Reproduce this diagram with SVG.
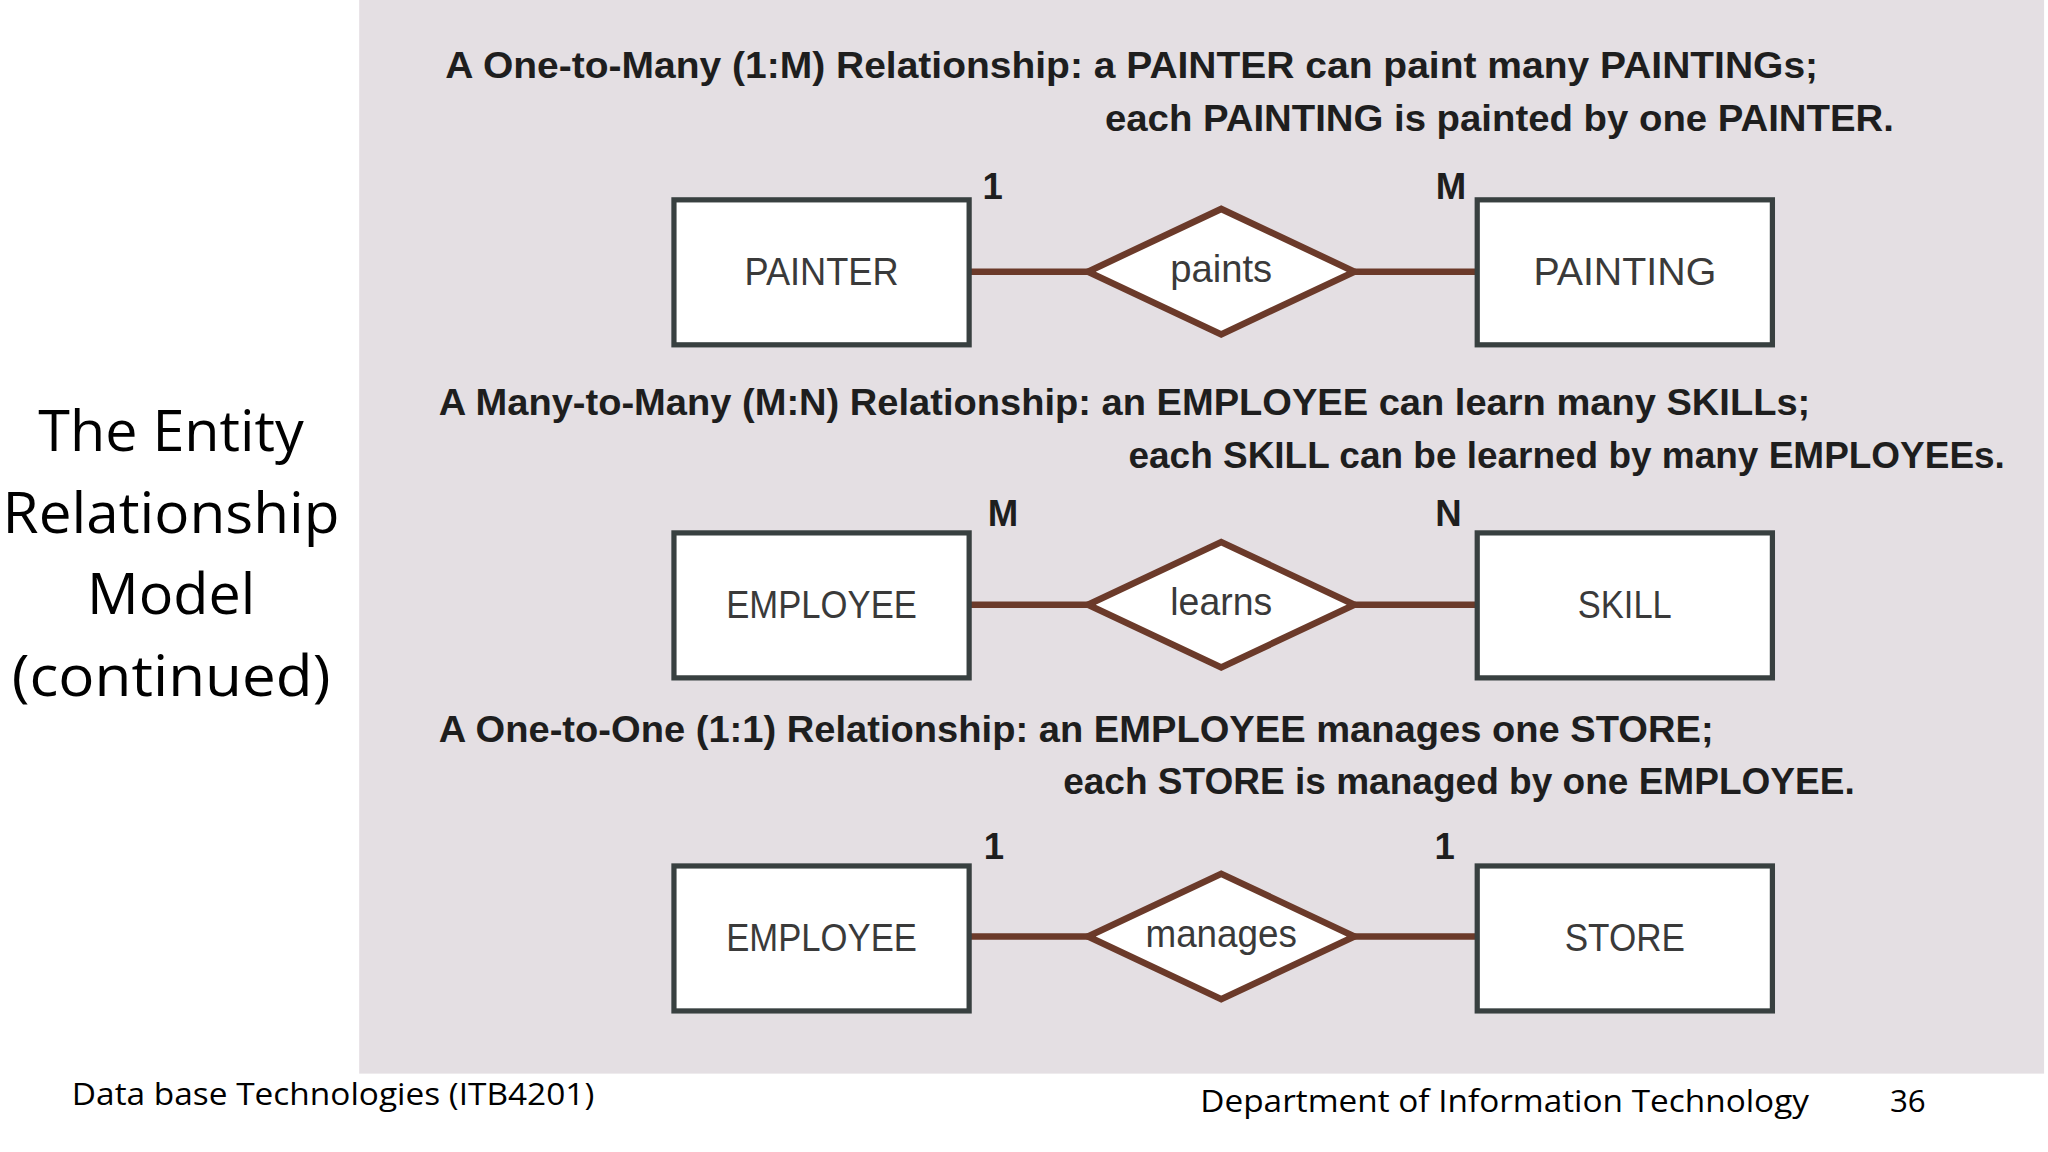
<svg xmlns="http://www.w3.org/2000/svg" width="2048" height="1152" viewBox="0 0 2048 1152">
<style>
.t{font-family:"Liberation Sans",Arial,sans-serif;font-size:28px;font-weight:bold;fill:#1e1e1e}
.ent{fill:#fff;stroke:#384040;stroke-width:4}
.rel{fill:#fff;stroke:#6b3a2a;stroke-width:5}
.lbl{font-family:"Liberation Sans",Arial,sans-serif;font-size:30px;fill:#3a3a3a;text-anchor:middle}
.card{font-family:"Liberation Sans",Arial,sans-serif;font-size:28px;font-weight:bold;fill:#1e1e1e;text-anchor:middle}
.side{font-family:"Open Sans",sans-serif;font-size:44px;fill:#000;text-anchor:middle}
.foot{font-family:"Open Sans",sans-serif;font-size:24px;fill:#000}
.ln{stroke:#6b3a2a;stroke-width:5}
</style>
<rect width="2048" height="1152" fill="#fff"/>
<g transform="scale(1.30612)">
<rect x="275" y="0" width="1290" height="822" fill="#e4dfe3"/>
<g id="titles">
<text class="t" x="341" y="60" textLength="1051" lengthAdjust="spacingAndGlyphs">A One-to-Many (1:M) Relationship: a PAINTER can paint many PAINTINGs;</text>
<text class="t" x="846" y="100" textLength="604" lengthAdjust="spacingAndGlyphs">each PAINTING is painted by one PAINTER.</text>
<text class="t" x="336" y="318" textLength="1050" lengthAdjust="spacingAndGlyphs">A Many-to-Many (M:N) Relationship: an EMPLOYEE can learn many SKILLs;</text>
<text class="t" x="864" y="358" textLength="671" lengthAdjust="spacingAndGlyphs">each SKILL can be learned by many EMPLOYEEs.</text>
<text class="t" x="336" y="568" textLength="976" lengthAdjust="spacingAndGlyphs">A One-to-One (1:1) Relationship: an EMPLOYEE manages one STORE;</text>
<text class="t" x="814" y="608" textLength="606" lengthAdjust="spacingAndGlyphs">each STORE is managed by one EMPLOYEE.</text>
</g>
<g id="connectors">
<line class="ln" x1="742" y1="208" x2="833" y2="208"/><line class="ln" x1="1037" y1="208" x2="1131" y2="208"/>
<line class="ln" x1="742" y1="463" x2="833" y2="463"/><line class="ln" x1="1037" y1="463" x2="1131" y2="463"/>
<line class="ln" x1="742" y1="717" x2="833" y2="717"/><line class="ln" x1="1037" y1="717" x2="1131" y2="717"/>
</g>
<g id="painter"><rect class="ent" x="516" y="153" width="226" height="111"/><text class="lbl" x="629" y="218" textLength="118" lengthAdjust="spacingAndGlyphs">PAINTER</text></g>
<g id="paints"><polygon class="rel" points="833,208 935,160 1037,208 935,256"/><text class="lbl" x="935" y="216" textLength="78" lengthAdjust="spacingAndGlyphs">paints</text></g>
<g id="painting"><rect class="ent" x="1131" y="153" width="226" height="111"/><text class="lbl" x="1244" y="218" textLength="140" lengthAdjust="spacingAndGlyphs">PAINTING</text></g>
<g id="employee1"><rect class="ent" x="516" y="408" width="226" height="111"/><text class="lbl" x="629" y="473" textLength="146" lengthAdjust="spacingAndGlyphs">EMPLOYEE</text></g>
<g id="learns"><polygon class="rel" points="833,463 935,415 1037,463 935,511"/><text class="lbl" x="935" y="471" textLength="78" lengthAdjust="spacingAndGlyphs">learns</text></g>
<g id="skill"><rect class="ent" x="1131" y="408" width="226" height="111"/><text class="lbl" x="1244" y="473" textLength="72" lengthAdjust="spacingAndGlyphs">SKILL</text></g>
<g id="employee2"><rect class="ent" x="516" y="663" width="226" height="111"/><text class="lbl" x="629" y="728" textLength="146" lengthAdjust="spacingAndGlyphs">EMPLOYEE</text></g>
<g id="manages"><polygon class="rel" points="833,717 935,669 1037,717 935,765"/><text class="lbl" x="935" y="725" textLength="116" lengthAdjust="spacingAndGlyphs">manages</text></g>
<g id="store"><rect class="ent" x="1131" y="663" width="226" height="111"/><text class="lbl" x="1244" y="728" textLength="92" lengthAdjust="spacingAndGlyphs">STORE</text></g>
<g id="cards">
<text class="card" x="760" y="152">1</text><text class="card" x="1111" y="152">M</text>
<text class="card" x="768" y="403">M</text><text class="card" x="1109" y="403">N</text>
<text class="card" x="761" y="658">1</text><text class="card" x="1106" y="658">1</text>
</g>
<g id="side">
<text class="side" x="131" y="345">The Entity</text>
<text class="side" x="131" y="408" textLength="258" lengthAdjust="spacingAndGlyphs">Relationship</text>
<text class="side" x="131" y="470">Model</text>
<text class="side" x="131" y="533" textLength="244" lengthAdjust="spacingAndGlyphs">(continued)</text>
</g>
<g id="footer">
<text class="foot" x="55" y="846" textLength="400" lengthAdjust="spacingAndGlyphs">Data base Technologies (ITB4201)</text>
<text class="foot" x="919" y="851" textLength="466" lengthAdjust="spacingAndGlyphs">Department of Information Technology</text>
<text class="foot" x="1447" y="851">36</text>
</g>
</g>
</svg>
